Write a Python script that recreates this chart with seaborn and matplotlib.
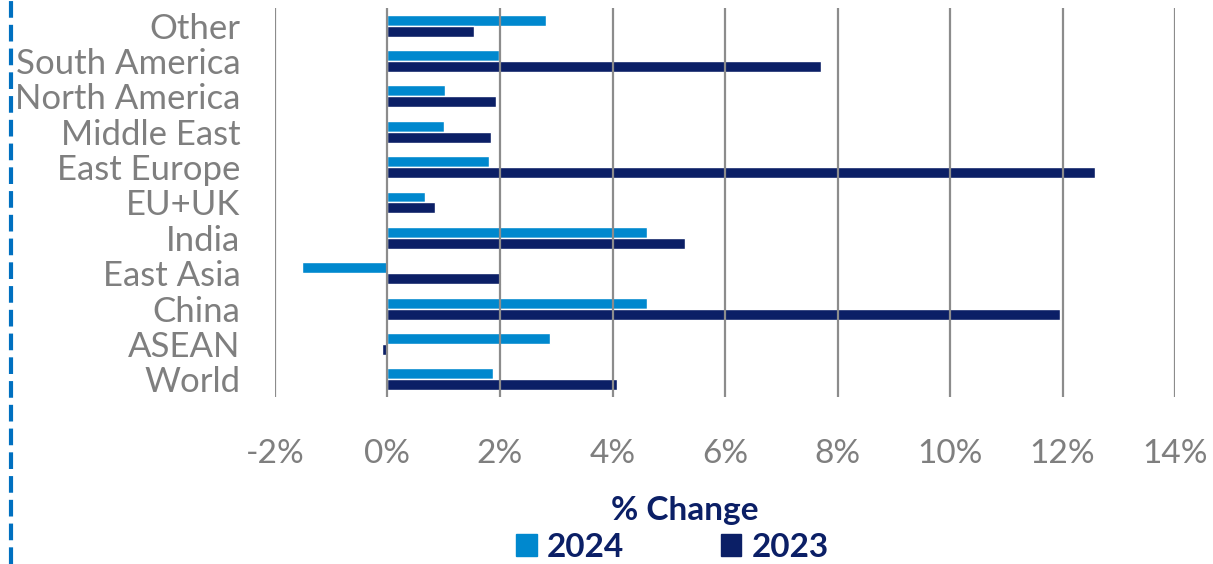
import matplotlib
matplotlib.use('Agg')
import pandas as pd
import matplotlib.pyplot as plt
import seaborn as sns
from matplotlib.lines import Line2D
from matplotlib.patches import Patch
from matplotlib.ticker import FuncFormatter

regions = ['Other', 'South America', 'North America', 'Middle East', 'East Europe',
           'EU+UK', 'India', 'East Asia', 'China', 'ASEAN', 'World']
change_2024 = [2.82, 1.98, 1.03, 1.00, 1.80, 0.66, 4.62, -1.52, 4.61, 2.89, 1.88]
change_2023 = [1.53, 7.70, 1.93, 1.84, 12.57, 0.84, 5.28, 2.01, 11.95, -0.10, 4.08]
years = ['2024', '2023']
x_ticks = [-2, 0, 2, 4, 6, 8, 10, 12, 14]

df = pd.DataFrame({
    'region': regions * 2,
    'value': change_2024 + change_2023,
    'year': ['2024'] * len(regions) + ['2023'] * len(regions),
})

light = '#0088ce'
navy = '#0b1f66'
grey = '#7f7f7f'

sns.set_style('white')
plt.rcParams['font.family'] = ['Lato', 'DejaVu Sans']

fig = plt.figure(figsize=(12.13, 5.64), dpi=100)
ax = fig.add_axes([0.2267, 0.296, 0.742, 0.69])

sns.barplot(data=df, x='value', y='region', hue='year', hue_order=years,
            order=regions, orient='h', palette=[light, navy], width=0.62,
            dodge=True, legend=False, ax=ax, saturation=1)

ax.set_xlim(-2, 14)
ax.set_xticks(x_ticks)
ax.xaxis.set_major_formatter(FuncFormatter(lambda v, p: f'{v:.0f}%'))
ax.grid(axis='x', color='#8c8c8c', lw=1.6, zorder=5)
ax.set_axisbelow(False)
for s in ax.spines.values():
    s.set_visible(False)
ax.tick_params(axis='both', length=0, labelcolor=grey)
ax.tick_params(axis='x', pad=30, labelsize=24)
ax.tick_params(axis='y', pad=25, labelsize=25)
ax.set_ylabel('')
ax.set_xlabel('% Change', fontsize=24, fontweight='bold', color=navy)
ax.xaxis.set_label_coords(0.455, -0.255)

handles = [Patch(color=light, label='2024'), Patch(color=navy, label='2023')]
leg = fig.legend(handles=handles, loc='center', bbox_to_anchor=(0.5544, 0.03), ncol=2,
                 frameon=False, handlelength=0.62, handleheight=0.62, handletextpad=0.3,
                 columnspacing=2.9, prop={'size': 24, 'weight': 'bold'})
for t in leg.get_texts():
    t.set_color(navy)

fig.add_artist(Line2D([0.009, 0.009], [0.0, 1.0], color='#0070c0', lw=3,
                      linestyle=(0, (4, 1.7)), transform=fig.transFigure))

plt.savefig('out.png', dpi=100)
